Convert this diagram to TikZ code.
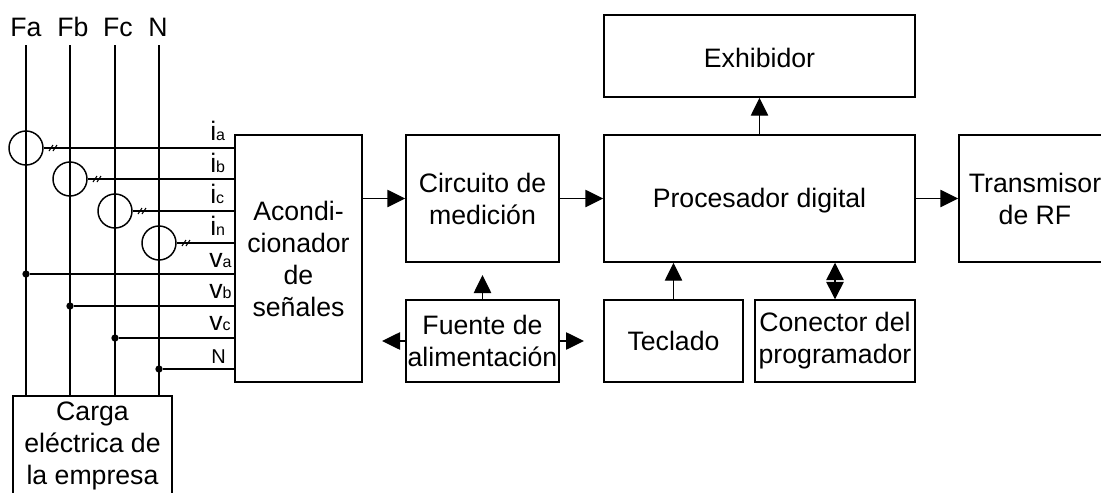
\documentclass[tikz,border=0pt]{standalone}
\usepackage{fontspec}
\setmainfont{Liberation Sans}
\usetikzlibrary{arrows.meta}
\tikzset{
blk/.style 2 args={draw,line width=1.1pt,inner sep=0pt,align=center,minimum width=#1*.75pt,minimum height=#2*.75pt},
conn/.style={line width=1.1pt,-{Triangle[length=13.5pt,width=13pt]}},
bidir/.style={line width=1.1pt,{Triangle[length=13pt,width=13pt]}-{Triangle[length=13pt,width=13pt]}},
wire/.style={line width=1.1pt},
sig/.style={anchor=base west,inner sep=0pt},
sensor/.style={draw,circle,line width=1.1pt,inner sep=0pt,minimum size=25.5pt},
tap/.style={fill,circle,inner sep=0pt,minimum size=5.5pt},
}
\newcommand{\subs}[1]{{\fontsize{12}{12}\selectfont #1}}
\begin{document}
\begin{tikzpicture}[x=.75pt,y=-.75pt,font=\fontsize{20}{24}\selectfont]
\useasboundingbox (0,0) rectangle (1101,493);
% blocks
\node[blk={311}{82},text height=17pt] (exhibidor) at (759.5,56) {Exhibidor};
\node[blk={311}{127},text depth=1pt] (proc) at (759.5,198.5) {Procesador digital};
\node[blk={152}{127}] (tx) at (1035,198.5) {Transmisor\\de RF};
\node[blk={160}{82}] (prog) at (835,341) {Conector del\\programador};
\node[blk={139}{82}] (teclado) at (673.5,341) {Teclado};
\node[blk={153}{82}] (fuente) at (482.5,341) {Fuente de\\alimentación};
\node[blk={153}{127}] (med) at (482.5,198.5) {Circuito de\\medición};
\node[blk={127}{247}] (acond) at (298.5,258.5) {Acondi-\\cionador\\de\\señales};
\node[blk={159}{100}] (carga) at (92.5,446) {Carga\\eléctrica de\\la empresa};
% phases
\foreach \n/\t/\x in {fa/Fa/26,fb/Fb/73,fc/Fc/118,fn/N/158}{
\node[inner sep=0pt] (\n) at (\x,27) {\t};
}
\coordinate (la) at (26,45);
\coordinate (lb) at (70,45);
\coordinate (lc) at (115,45);
\coordinate (ln) at (159,45);
\foreach \n in {la,lb,lc,ln}{
\draw[wire] (\n) -- (\n |- carga.north);
}
% current sensors
\foreach \n/\x/\y in {sa/26/148,sb/70/179,sc/115/211,sn/159/243}{
\node[sensor] (\n) at (\x,\y) {};
\draw[wire] (\n.east) -- (\n.east -| acond.west);
\draw[line width=.8pt] (\x+23,\y+3) -- (\x+27,\y-3);
\draw[line width=.8pt] (\x+27,\y+3) -- (\x+31,\y-3);
}
% voltage taps
\foreach \n/\x/\y in {ta/26/274,tb/70/306,tc/115/338,tn/159/369}{
\node[tap] (\n) at (\x,\y) {};
\draw[wire] (\n) -- (\n -| acond.west);
}
% input labels
\foreach \n/\t/\s/\x/\y in {ia/i/a/210/140,ib/i/b/210/172,ic/i/c/210/203,in/i/n/210/235,va/v/a/209/267,vb/v/b/209/298,vc/v/c/209/330}{
\node[sig] (\n) at (\x,\y) {\t\subs{\s}};
}
\node[sig,font=\fontsize{15}{18}\selectfont] (vn) at (211,363) {N};
% signal path
\draw[conn] (acond.east |- med) -- (med);
\draw[conn] (med) -- (proc);
\draw[conn] (proc) -- (tx);
\draw[conn] (proc.north -| exhibidor) -- (exhibidor);
\draw[conn] (teclado) -- (teclado |- proc.south);
\draw[bidir] (prog.north) -- (prog.north |- proc.south);
% power supply
\coordinate (pwrup) at (482.5,275);
\coordinate (pwrl) at (382,341);
\coordinate (pwrr) at (584,341);
\draw[conn] (fuente.north) -- (pwrup);
\draw[conn] (fuente.west) -- (pwrl);
\draw[conn] (fuente.east) -- (pwrr);
\end{tikzpicture}
\end{document}
